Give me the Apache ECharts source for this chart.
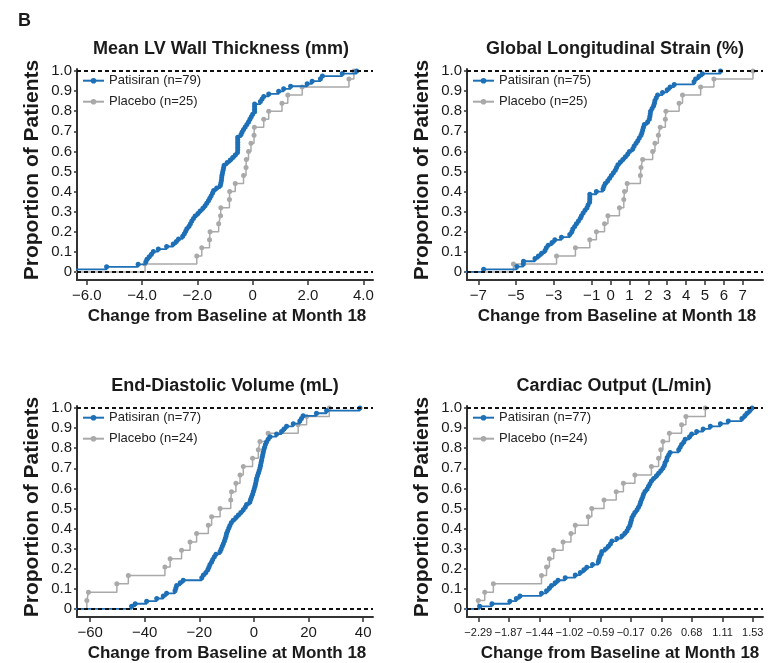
<!DOCTYPE html>
<html><head><meta charset="utf-8">
<script src="https://cdn.jsdelivr.net/npm/echarts@6/dist/echarts.min.js"></script>
<style>html,body{margin:0;padding:0;background:#fff}#c{width:768px;height:663px}</style>
</head><body><div id="c"></div>
<script>
// ---- Data ----
const panelTitles = ['Mean LV Wall Thickness (mm)', 'Global Longitudinal Strain (%)', 'End-Diastolic Volume (mL)', 'Cardiac Output (L/min)'];
const patisiranNames = ['Patisiran (n=79)', 'Patisiran (n=75)', 'Patisiran (n=77)', 'Patisiran (n=77)'];
const placeboNames = ['Placebo (n=25)', 'Placebo (n=25)', 'Placebo (n=24)', 'Placebo (n=24)'];

// Change from baseline per patient (sorted); cumulative proportion = rank / n
const wallPatisiran = [-6.8, -5.28, -4.14, -3.86, -3.82, -3.74, -3.66, -3.59, -3.41, -3.11,
  -2.87, -2.76, -2.68, -2.53, -2.47, -2.42, -2.38, -2.30, -2.25, -2.20,
  -2.14, -2.08, -1.98, -1.90, -1.80, -1.72, -1.66, -1.60, -1.55, -1.50,
  -1.45, -1.41, -1.30, -1.17, -1.15, -1.13, -1.12, -1.11, -1.09, -1.07,
  -1.05, -1.03, -0.92, -0.81, -0.72, -0.63, -0.55, -0.54, -0.54, -0.54,
  -0.54, -0.54, -0.54, -0.42, -0.38, -0.33, -0.27, -0.21, -0.15, -0.10,
  -0.05, 0.00, 0.07, 0.07, 0.07, 0.07, 0.28, 0.34, 0.40, 0.58,
  0.94, 1.12, 1.37, 1.97, 2.15, 2.45, 2.52, 3.24, 3.76];
const wallPlacebo = [-3.89, -2.02, -1.84, -1.56, -1.54, -1.23, -1.16, -1.15, -0.84, -0.83,
  -0.63, -0.33, -0.24, -0.23, -0.15, -0.06, 0.05, 0.06, 0.40, 0.58,
  1.06, 1.27, 1.79, 3.48, 3.66];

const glsPatisiran = [-6.72, -4.96, -4.62, -4.61, -4.00, -3.82, -3.65, -3.47, -3.40, -3.30,
  -3.10, -2.95, -2.60, -2.16, -2.05, -2.00, -1.90, -1.81, -1.70, -1.60,
  -1.54, -1.45, -1.35, -1.25, -1.19, -1.11, -1.10, -1.10, -1.10, -0.75,
  -0.40, -0.35, -0.28, -0.15, -0.05, 0.04, 0.15, 0.25, 0.32, 0.39,
  0.52, 0.65, 0.78, 0.91, 1.00, 1.18, 1.25, 1.35, 1.44, 1.52,
  1.61, 1.66, 1.70, 1.74, 1.79, 1.96, 2.05, 2.08, 2.10, 2.12,
  2.20, 2.28, 2.32, 2.35, 2.42, 2.49, 2.75, 3.00, 3.15, 3.37,
  4.42, 4.50, 4.68, 4.86, 5.82];
const glsPlacebo = [-5.14, -2.86, -1.86, -1.10, -0.75, -0.32, -0.14, 0.47, 0.70, 0.74,
  0.88, 1.58, 1.61, 1.70, 2.23, 2.35, 2.53, 2.63, 2.90, 2.93,
  3.63, 3.81, 4.77, 5.47, 7.54];

const edvPatisiran = [-44.8, -43.5, -39.3, -35.6, -33.2, -32.0, -28.9, -28.6, -28.3, -27.0,
  -25.9, -19.1, -18.5, -17.6, -16.9, -16.5, -16.1, -15.5, -15.1, -14.5,
  -13.9, -12.4, -12.0, -11.6, -11.2, -10.8, -10.5, -10.2, -10.0, -9.6,
  -9.2, -8.8, -8.3, -7.6, -6.6, -5.7, -4.8, -3.9, -3.2, -2.7,
  -1.5, -1.2, -0.85, -0.5, -0.2, 0.1, 0.37, 0.6, 0.8, 0.98,
  1.3, 1.6, 1.9, 2.2, 2.4, 2.6, 2.8, 3.0, 3.2, 3.4,
  3.6, 3.9, 4.2, 4.6, 5.2, 5.9, 8.3, 10.1, 11.0, 11.95,
  14.4, 16.8, 17.4, 18.0, 22.9, 26.6, 38.8];
const edvPlacebo = [-61.2, -60.6, -50.2, -46.0, -32.6, -30.7, -26.5, -23.4, -21.0, -16.7,
  -15.5, -12.4, -8.5, -8.2, -6.6, -5.1, -3.9, -0.5, 1.6, 2.2,
  5.2, 16.2, 19.3, 27.6];

const coPatisiran = [-2.27, -2.10, -1.85, -1.76, -1.71, -1.41, -1.34, -1.30, -1.27, -1.22,
  -1.18, -1.08, -0.94, -0.87, -0.82, -0.78, -0.70, -0.62, -0.61, -0.60,
  -0.58, -0.57, -0.52, -0.48, -0.45, -0.43, -0.36, -0.29, -0.25, -0.22,
  -0.20, -0.18, -0.17, -0.16, -0.15, -0.13, -0.11, -0.08, -0.06, -0.04,
  -0.03, -0.015, 0.00, 0.01, 0.03, 0.06, 0.08, 0.10, 0.12, 0.15,
  0.19, 0.22, 0.25, 0.28, 0.30, 0.31, 0.33, 0.34, 0.36, 0.38,
  0.50, 0.52, 0.54, 0.57, 0.59, 0.65, 0.68, 0.75, 0.84, 0.94,
  1.08, 1.19, 1.38, 1.42, 1.45, 1.49, 1.52];
const coPlacebo = [-2.29, -2.20, -2.08, -1.41, -1.34, -1.30, -1.24, -1.11, -1.00, -0.94,
  -0.76, -0.71, -0.54, -0.37, -0.27, -0.11, 0.12, 0.22, 0.25, 0.28,
  0.37, 0.54, 0.60, 0.87];

// Tick values and labels
const wallTicks = [-6, -4, -2, 0, 2, 4];
const wallTickLabels = ['\u22126.0', '\u22124.0', '\u22122.0', '0', '2.0', '4.0'];
const glsTicks = [-7, -5, -3, -1, 0, 1, 2, 3, 4, 5, 6, 7];
const glsTickLabels = ['\u22127', '\u22125', '\u22123', '\u22121', '0', '1', '2', '3', '4', '5', '6', '7'];
const edvTicks = [-60, -40, -20, 0, 20, 40];
const edvTickLabels = ['\u221260', '\u221240', '\u221220', '0', '20', '40'];
const coTicks = [-2.29, -1.87, -1.44, -1.02, -0.59, -0.17, 0.26, 0.68, 1.11, 1.53];
const coTickLabels = ['\u22122.29', '\u22121.87', '\u22121.44', '\u22121.02', '\u22120.59', '\u22120.17', '0.26', '0.68', '1.11', '1.53'];
const yTicks = [0, 0.1, 0.2, 0.3, 0.4, 0.5, 0.6, 0.7, 0.8, 0.9, 1.0];
const yTickLabels = ['0', '0.1', '0.2', '0.3', '0.4', '0.5', '0.6', '0.7', '0.8', '0.9', '1.0'];

// ---- Layout / style ----
const FONT = "'Liberation Sans', Arial, Helvetica, sans-serif";
const BLUE = '#1d6fb6';
const GRAY = '#a9a9a9';
const AXIS = '#333333';
const TEXT = '#1a1a1a';

const panels = [
  { pat: wallPatisiran, pla: wallPlacebo, ticks: wallTicks, labels: wallTickLabels, min: -6.35, max: 4.35, left: 77, top: 69, fs: 15, margin: 8, tx: 221, nx: 227 },
  { pat: glsPatisiran, pla: glsPlacebo, ticks: glsTicks, labels: glsTickLabels, min: -7.6, max: 8.07, left: 467, top: 69, fs: 15, margin: 8, tx: 615, nx: 617 },
  { pat: edvPatisiran, pla: edvPlacebo, ticks: edvTicks, labels: edvTickLabels, min: -64.8, max: 43.6, left: 77, top: 406, fs: 15, margin: 8, tx: 225, nx: 227 },
  { pat: coPatisiran, pla: coPlacebo, ticks: coTicks, labels: coTickLabels, min: -2.447, max: 1.673, left: 467, top: 406, fs: 11, margin: 10, tx: 614, nx: 620 }
];
const GW = 296, GH = 211, YMIN = -0.04, YMAX = 1.01;

function labelFor(ticks, labels) {
  return function (v) {
    const i = ticks.findIndex(t => Math.abs(t - v) < 1e-6);
    return i >= 0 ? labels[i] : '';
  };
}
function ecdf(values, axisMin) {
  const n = values.length;
  const pts = [{ value: [Math.min(values[0], axisMin) - 1, 0], symbol: 'none' }];
  values.forEach((v, i) => pts.push([v, (i + 1) / n]));
  return pts;
}

const grid = [], xAxis = [], yAxis = [], series = [], legend = [], graphic = [];
panels.forEach((p, i) => {
  grid.push({ left: p.left, top: p.top, width: GW, height: GH, containLabel: false, outerBoundsMode: 'none' });
  xAxis.push({
    type: 'value', gridIndex: i, min: p.min, max: p.max,
    axisLine: { onZero: false, lineStyle: { color: AXIS, width: 2 } },
    axisTick: { customValues: p.ticks, length: 5, lineStyle: { color: AXIS, width: 1.5 } },
    axisLabel: { customValues: p.ticks, formatter: labelFor(p.ticks, p.labels), fontSize: p.fs, color: TEXT, fontFamily: FONT, margin: p.margin },
    splitLine: { show: false }
  });
  yAxis.push({
    type: 'value', gridIndex: i, min: YMIN, max: YMAX,
    axisLine: { show: true, onZero: false, lineStyle: { color: AXIS, width: 2 } },
    axisTick: { show: true, customValues: yTicks, length: 3, lineStyle: { color: AXIS, width: 1.5 } },
    axisLabel: { customValues: yTicks, formatter: labelFor(yTicks, yTickLabels), fontSize: 15, color: TEXT, fontFamily: FONT, margin: 5 },
    splitLine: { show: false }
  });
  series.push({
    type: 'line', name: placeboNames[i], xAxisIndex: i, yAxisIndex: i, step: 'end',
    data: ecdf(p.pla, p.min), symbol: 'circle', symbolSize: 5, showAllSymbol: true,
    itemStyle: { color: GRAY }, lineStyle: { color: GRAY, width: 1.5 }, z: 2,
    markLine: {
      silent: true, symbol: 'none', label: { show: false }, animation: false,
      lineStyle: { color: '#111', type: [4, 3], width: 2 },
      data: [{ yAxis: 0 }, { yAxis: 1 }]
    }
  });
  series.push({
    type: 'line', name: patisiranNames[i], xAxisIndex: i, yAxisIndex: i, step: 'end',
    data: ecdf(p.pat, p.min), symbol: 'circle', symbolSize: 5, showAllSymbol: true,
    itemStyle: { color: BLUE }, lineStyle: { color: BLUE, width: 1.8 }, z: 3
  });
  legend.push({
    data: [patisiranNames[i], placeboNames[i]], orient: 'vertical',
    left: p.left + 5, top: p.top + 5.2, padding: 0, itemWidth: 21, itemHeight: 7, itemGap: 8,
    selectedMode: false, textStyle: { fontSize: 13, color: '#222', fontFamily: FONT }
  });
  graphic.push({ type: 'text', x: p.tx, y: p.top - 20, style: { text: panelTitles[i], font: 'bold 18px ' + FONT, fill: TEXT, align: 'center', verticalAlign: 'middle' } });
  graphic.push({ type: 'text', x: p.left - 45, y: p.top + 101, rotation: Math.PI / 2, style: { text: 'Proportion of Patients', font: 'bold 21px ' + FONT, fill: TEXT, align: 'center', verticalAlign: 'middle' } });
  graphic.push({ type: 'text', x: p.nx, y: p.top + GH + 36, style: { text: 'Change from Baseline at Month 18', font: 'bold 17px ' + FONT, fill: TEXT, align: 'center', verticalAlign: 'middle' } });
});
graphic.push({ type: 'text', x: 18, y: 21, style: { text: 'B', font: 'bold 18px ' + FONT, fill: TEXT, align: 'left', verticalAlign: 'middle' } });

const chart = echarts.init(document.getElementById('c'), null, { renderer: 'canvas' });
chart.setOption({
  animation: false,
  backgroundColor: '#ffffff',
  grid, xAxis, yAxis, series, legend, graphic
});
</script></body></html>
